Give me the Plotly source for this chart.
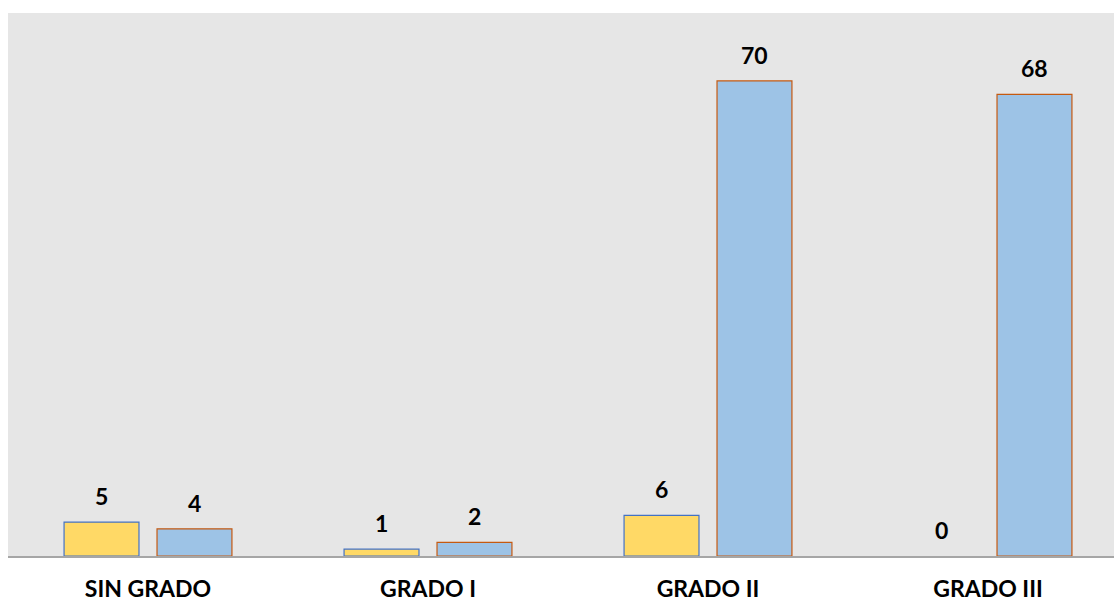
import plotly.graph_objects as go

categories = ["SIN GRADO", "GRADO I", "GRADO II", "GRADO III"]
series_a = [5, 1, 6, 0]
series_b = [4, 2, 70, 68]

def widths(vals):
    return [1.2 if v > 0 else 0 for v in vals]

fig = go.Figure()
fig.add_trace(go.Bar(x=categories, y=series_a, marker=dict(color="#FFD966", line=dict(color="#4472C4", width=widths(series_a))), name="A"))
fig.add_trace(go.Bar(x=categories, y=series_b, marker=dict(color="#9DC3E6", line=dict(color="#C55A11", width=widths(series_b))), name="B"))

lab_font = dict(family="Lato", size=23, color="#000000")
for vals, shift in ((series_a, -46.5), (series_b, 46.5)):
    for c, v in zip(categories, vals):
        fig.add_annotation(x=c, y=v, xref="x", yref="y", text=f"<b>{v}</b>", showarrow=False,
                           xshift=shift, yshift=26, yanchor="middle", font=lab_font)

fig.update_layout(
    width=1114, height=603,
    margin=dict(l=8, r=0, t=13, b=47),
    paper_bgcolor="white", plot_bgcolor="#E6E6E6",
    barmode="group", bargap=0.336, bargroupgap=0.194,
    showlegend=False,
    xaxis=dict(range=[-0.5, 3.45], showline=True, linecolor="#A6A6A6", linewidth=1.5,
               tickfont=dict(family="Lato", size=23, color="#000000"), ticks="",
               ticklabelstandoff=12, tickprefix="<b>", ticksuffix="</b>", showgrid=False,
               automargin=False),
    yaxis=dict(range=[0, 80], showticklabels=False, showgrid=False, zeroline=False, ticks="",
               automargin=False),
)
fig.write_html("out.html", config={"displayModeBar": False},
               post_script="document.body.style.margin='0';document.body.style.overflow='hidden';")
